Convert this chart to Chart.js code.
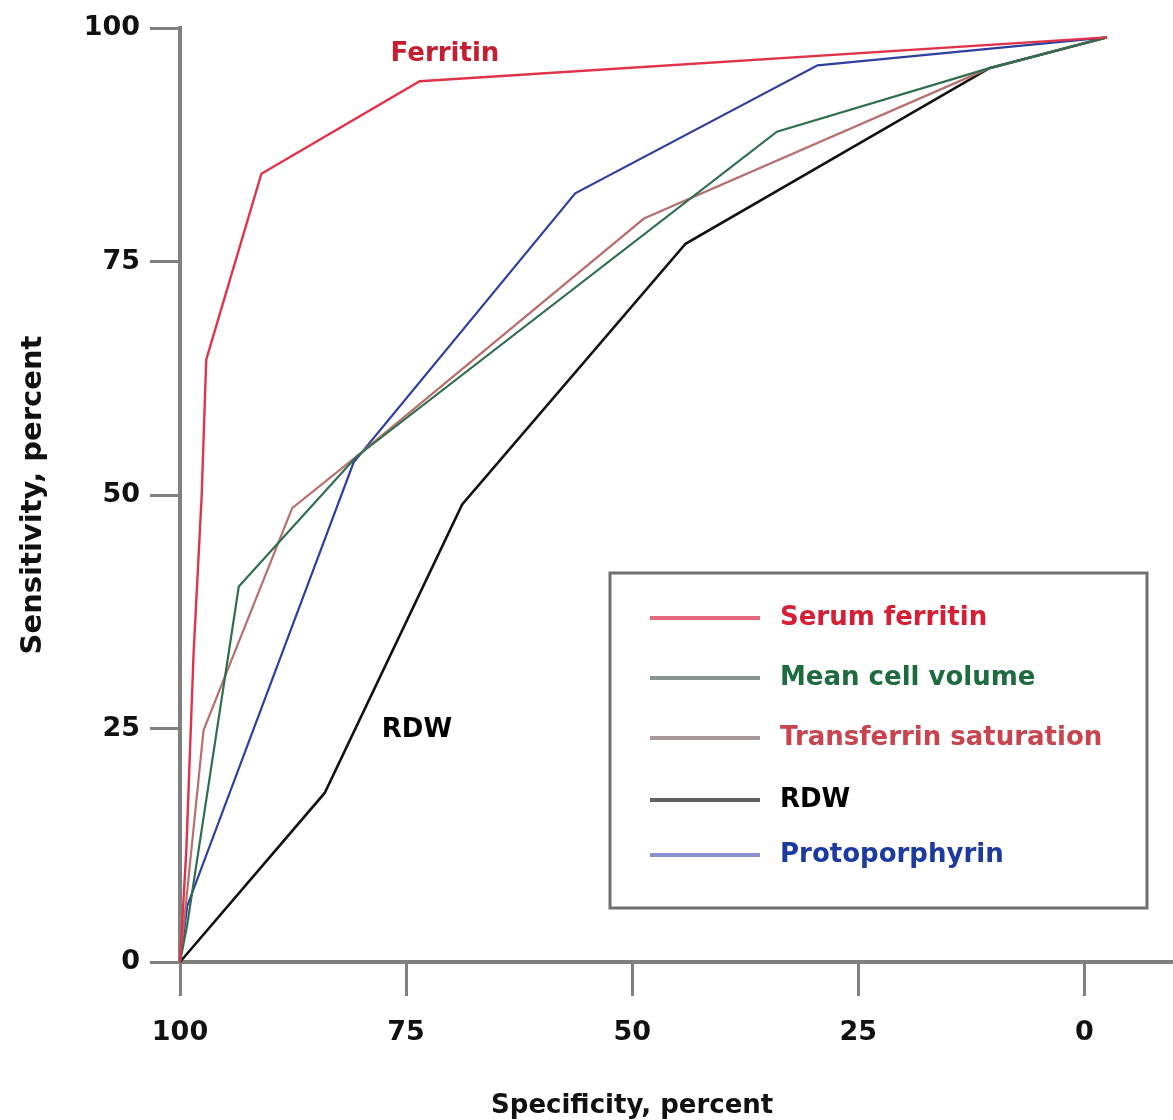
<!DOCTYPE html>
<html>
<head>
<meta charset="utf-8">
<title>ROC curves for iron deficiency tests</title>
<script src="https://cdn.jsdelivr.net/npm/chart.js"></script>
<style>
  html, body { margin: 0; padding: 0; background: #fff; }
  #roc { display: block; }
</style>
</head>
<body>
<canvas id="roc" width="1173" height="1120"></canvas>
<script>
// specificity (x) / sensitivity (y), percent
const ferritinSpec = [100, 99.3, 98.5, 97.6, 97.1, 91.0, 73.5, -2.5];
const ferritinSens = [0, 12, 33, 50, 64.5, 84.4, 94.3, 99];

const mcvSpec = [100, 99.2, 93.5, 80.5, 34.0, 10.5, -2.5];
const mcvSens = [0, 4, 40.2, 54.1, 88.9, 95.7, 99];

const tsatSpec = [100, 97.4, 87.6, 80.5, 48.7, 10.5, -2.5];
const tsatSens = [0, 24.8, 48.6, 54.1, 79.6, 95.7, 99];

const rdwSpec = [100, 84.0, 68.8, 44.1, 10.5, -2.5];
const rdwSens = [0, 18.1, 49.0, 76.9, 95.7, 99];

const fepSpec = [100, 99.2, 80.8, 56.3, 29.5, -2.5];
const fepSens = [0, 6, 53.5, 82.3, 96.0, 99];

const xTicks = [100, 75, 50, 25, 0];
const yTicks = [0, 25, 50, 75, 100];

const FONT = "'DejaVu Sans', Verdana, sans-serif";
const AXIS = "#808080";

const series = [
    { label: "Serum ferritin", spec: ferritinSpec, sens: ferritinSens, color: "#e0334a", key: "#e06a7c", text: "#d41f35", width: 2.4 },
    { label: "Mean cell volume", spec: mcvSpec, sens: mcvSens, color: "#2f6e4f", key: "#8a9590", text: "#1f6b40", width: 2.2 },
    { label: "Transferrin saturation", spec: tsatSpec, sens: tsatSens, color: "#b8706e", key: "#a89a9a", text: "#c8454f", width: 2.2 },
    { label: "RDW", spec: rdwSpec, sens: rdwSens, color: "#111111", key: "#606060", text: "#000000", width: 2.6 },
    { label: "Protoporphyrin", spec: fepSpec, sens: fepSens, color: "#2f3f9f", key: "#8890d0", text: "#1c3aa0", width: 2.2 },
];

// boxed key in the lower right of the plot
const keyBox = {
    id: "keyBox",
    afterDraw(chart) {
        const ctx = chart.ctx;
        const rows = [618, 678, 738, 800, 855];
        ctx.save();
        ctx.strokeStyle = "#707070";
        ctx.lineWidth = 3;
        ctx.strokeRect(610, 573, 537, 335);
        ctx.font = "bold 26px " + FONT;
        ctx.textBaseline = "middle";
        ctx.textAlign = "left";
        series.forEach((s, i) => {
            ctx.strokeStyle = s.key;
            ctx.lineWidth = 4;
            ctx.beginPath();
            ctx.moveTo(650, rows[i]);
            ctx.lineTo(760, rows[i]);
            ctx.stroke();
            ctx.fillStyle = s.text;
            ctx.fillText(s.label, 780, rows[i]);
        });
        ctx.restore();
    },
};

// axis titles and the two in-plot curve labels
const annotations = {
    id: "annotations",
    afterDraw(chart) {
        const { ctx, scales: { x, y } } = chart;
        ctx.save();
        ctx.textAlign = "center";
        ctx.textBaseline = "middle";
        ctx.font = "bold 26px " + FONT;

        ctx.fillStyle = "#c41e30";
        ctx.fillText("Ferritin", x.getPixelForValue(70.7), y.getPixelForValue(97.2));
        ctx.fillStyle = "#000";
        ctx.fillText("RDW", x.getPixelForValue(73.8), y.getPixelForValue(24.8));

        ctx.fillStyle = "#111";
        ctx.fillText("Specificity, percent", x.getPixelForValue(50), 1106);
        ctx.translate(33, y.getPixelForValue(50));
        ctx.rotate(-Math.PI / 2);
        ctx.font = "bold 29px " + FONT;
        ctx.fillText("Sensitivity, percent", 0, 0);
        ctx.restore();
    },
};

new Chart(document.getElementById("roc"), {
    type: "scatter",
    data: {
        datasets: series.map((s) => ({
            label: s.label,
            data: s.spec.map((v, i) => ({ x: v, y: s.sens[i] })),
            showLine: true,
            borderColor: s.color,
            borderWidth: s.width,
            pointRadius: 0,
            fill: false,
            tension: 0,
            clip: false,
        })),
    },
    options: {
        responsive: false,
        animation: false,
        events: [],
        layout: {
            padding: { top: 28, right: 0, bottom: 0, left: 0 },
        },
        plugins: {
            legend: { display: false },
            tooltip: { enabled: false },
        },
        scales: {
            x: {
                type: "linear",
                reverse: true,
                min: -9.8,
                max: 100,
                afterBuildTicks: (scale) => {
                    scale.ticks = xTicks.map((v) => ({ value: v }));
                },
                afterFit: (scale) => {
                    scale.height = 158;
                },
                ticks: {
                    color: "#111",
                    padding: 21,
                    maxRotation: 0,
                    font: { family: FONT, size: 27, weight: "bold" },
                },
                grid: {
                    drawOnChartArea: false,
                    tickLength: 34,
                    color: AXIS,
                    lineWidth: 3,
                },
                border: { color: AXIS, width: 4 },
            },
            y: {
                type: "linear",
                min: 0,
                max: 100,
                afterBuildTicks: (scale) => {
                    scale.ticks = yTicks.map((v) => ({ value: v }));
                },
                afterFit: (scale) => {
                    scale.width = 180;
                },
                ticks: {
                    color: "#111",
                    padding: 10,
                    font: { family: FONT, size: 27, weight: "bold" },
                },
                grid: {
                    drawOnChartArea: false,
                    tickLength: 30,
                    color: AXIS,
                    lineWidth: 3,
                },
                border: { color: AXIS, width: 4 },
            },
        },
    },
    plugins: [keyBox, annotations],
});
</script>
</body>
</html>
